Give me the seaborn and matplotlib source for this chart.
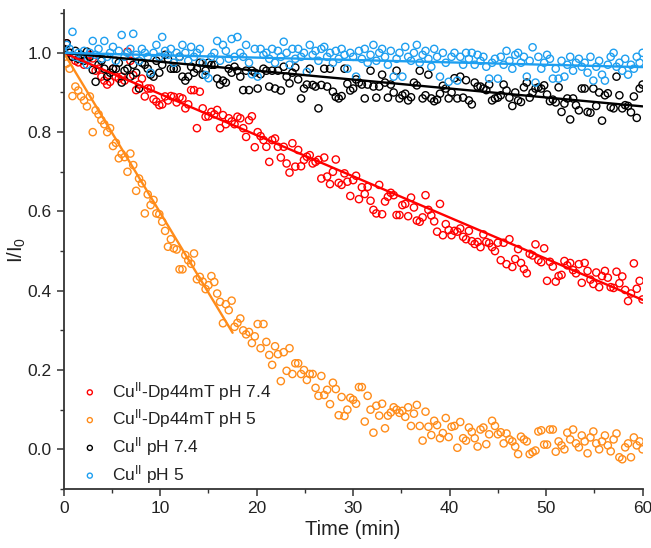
import numpy as np
import pandas as pd
import matplotlib; matplotlib.use("Agg")
import matplotlib.pyplot as plt
import seaborn as sns

# ---- data (one reading every ~0.3 min, 0-60 min) ----
red_y = [  # Cu(II)-Dp44mT pH 7.4
    1.01, 1.024, 1.0, 0.99, 0.98, 0.976, 0.99, 0.97, 0.985, 0.995,
    0.986, 0.955, 0.96, 0.94, 0.93, 0.92, 0.927, 0.96, 0.94, 0.935,
    0.94, 0.93, 1.003, 0.98, 0.944, 0.906, 0.92, 0.935, 0.89, 0.91,
    0.91, 0.883, 0.877, 0.868, 0.87, 0.89, 0.88, 0.891, 0.889, 0.875,
    0.888, 0.885, 0.86, 0.87, 0.906, 0.906, 0.81, 0.902, 0.86, 0.839,
    0.84, 0.851, 0.845, 0.856, 0.81, 0.843, 0.82, 0.835, 0.827, 0.82,
    0.839, 0.835, 0.81, 0.788, 0.83, 0.84, 0.762, 0.80, 0.79, 0.78,
    0.763, 0.725, 0.78, 0.784, 0.763, 0.736, 0.763, 0.721, 0.698, 0.772,
    0.713, 0.755, 0.714, 0.73, 0.738, 0.742, 0.721, 0.725, 0.73, 0.683,
    0.736, 0.688, 0.669, 0.70, 0.731, 0.672, 0.667, 0.696, 0.675, 0.639,
    0.679, 0.69, 0.631, 0.661, 0.644, 0.662, 0.627, 0.604, 0.595, 0.667,
    0.593, 0.625, 0.637, 0.647, 0.641, 0.591, 0.591, 0.616, 0.619, 0.588,
    0.635, 0.61, 0.577, 0.574, 0.585, 0.641, 0.604, 0.59, 0.575, 0.549,
    0.619, 0.54, 0.568, 0.553, 0.54, 0.551, 0.549, 0.557, 0.536, 0.53,
    0.551, 0.525, 0.518, 0.523, 0.51, 0.542, 0.523, 0.52, 0.51, 0.50,
    0.521, 0.477, 0.521, 0.467, 0.53, 0.46, 0.48, 0.505, 0.47, 0.455,
    0.444, 0.493, 0.489, 0.517, 0.477, 0.472, 0.507, 0.425, 0.473, 0.461,
    0.423, 0.437, 0.44, 0.475, 0.464, 0.47, 0.452, 0.444, 0.467, 0.42,
    0.47, 0.45, 0.428, 0.417, 0.446, 0.409, 0.437, 0.45, 0.433, 0.409,
    0.407, 0.448, 0.419, 0.436, 0.402, 0.374, 0.393, 0.469, 0.405, 0.425,
    0.378,
]
orange_y = [  # Cu(II)-Dp44mT pH 5
    1.00, 0.973, 0.96, 0.891, 0.915, 0.905, 0.89, 0.88, 0.865, 0.89,
    0.80, 0.855, 0.845, 0.83, 0.82, 0.80, 0.81, 0.765, 0.773, 0.734,
    0.745, 0.737, 0.70, 0.746, 0.717, 0.652, 0.683, 0.671, 0.595, 0.643,
    0.616, 0.629, 0.595, 0.593, 0.574, 0.551, 0.511, 0.53, 0.507, 0.504,
    0.454, 0.454, 0.49, 0.477, 0.468, 0.494, 0.429, 0.435, 0.423, 0.404,
    0.414, 0.437, 0.422, 0.393, 0.372, 0.318, 0.366, 0.351, 0.375, 0.309,
    0.319, 0.33, 0.30, 0.29, 0.296, 0.268, 0.285, 0.316, 0.255, 0.316,
    0.271, 0.238, 0.213, 0.26, 0.24, 0.172, 0.245, 0.198, 0.255, 0.19,
    0.217, 0.217, 0.19, 0.2, 0.175, 0.19, 0.19, 0.155, 0.135, 0.185,
    0.137, 0.15, 0.114, 0.168, 0.152, 0.086, 0.132, 0.084, 0.10, 0.13,
    0.125, 0.115, 0.157, 0.157, 0.07, 0.135, 0.10, 0.042, 0.11, 0.085,
    0.115, 0.053, 0.085, 0.093, 0.106, 0.10, 0.092, 0.097, 0.082, 0.106,
    0.059, 0.09, 0.112, 0.059, 0.022, 0.095, 0.057, 0.036, 0.072, 0.061,
    0.028, 0.041, 0.079, 0.031, 0.057, 0.059, 0.004, 0.069, 0.028, 0.022,
    0.055, 0.044, 0.028, 0.007, 0.05, 0.055, 0.013, 0.038, 0.072, 0.059,
    0.038, 0.043, 0.015, 0.04, 0.025, 0.02, 0.007, -0.012, 0.032, 0.025,
    0.02, -0.012, -0.007, -0.003, 0.045, 0.048, 0.012, 0.012, 0.05, 0.05,
    -0.006, 0.02, 0.01, 0.0, 0.042, 0.025, 0.05, 0.015, 0.005, 0.035,
    0.02, -0.01, 0.03, 0.045, 0.015, 0.0, 0.02, 0.035, 0.01, -0.005,
    0.025, 0.04, -0.02, -0.025, 0.005, 0.015, -0.02, 0.03, 0.01, 0.02,
    0.0,
]
black_y = [  # Cu(II) pH 7.4
    1.01, 1.024, 1.0, 0.99, 1.005, 0.985, 0.995, 0.98, 1.003, 0.99,
    0.957, 0.927, 0.97, 0.98, 0.96, 0.94, 0.95, 0.96, 0.96, 0.975,
    0.925, 0.955, 0.96, 0.94, 0.97, 0.95, 0.91, 0.975, 0.97, 0.96,
    0.945, 0.94, 0.98, 0.95, 0.97, 0.995, 0.985, 0.96, 0.96, 0.96,
    0.99, 0.94, 0.93, 0.94, 0.965, 0.95, 0.96, 0.975, 0.945, 0.955,
    0.975, 0.97, 0.97, 0.935, 0.92, 0.93, 0.925, 0.96, 0.95, 0.965,
    0.955, 0.94, 0.906, 0.955, 0.906, 0.955, 0.95, 0.91, 0.946, 0.96,
    0.955, 0.915, 0.955, 0.91, 0.955, 0.905, 0.965, 0.94, 0.923, 0.95,
    0.963, 0.933, 0.885, 0.91, 0.92, 0.96, 0.919, 0.915, 0.86, 0.919,
    0.96, 0.915, 0.96, 0.902, 0.889, 0.885, 0.891, 0.96, 0.922, 0.905,
    0.91, 0.933, 0.925, 0.92, 0.885, 0.92, 0.955, 0.915, 0.887, 0.915,
    0.945, 0.925, 0.887, 0.92, 0.9, 0.955, 0.885, 0.893, 0.897, 0.88,
    0.888, 0.925, 0.918, 0.955, 0.885, 0.893, 0.945, 0.885, 0.878, 0.882,
    0.897, 0.917, 0.91, 0.885, 0.9, 0.936, 0.885, 0.94, 0.887, 0.931,
    0.88, 0.87, 0.925, 0.915, 0.915, 0.91, 0.906, 0.92, 0.88, 0.885,
    0.887, 0.893, 0.92, 0.905, 0.887, 0.866, 0.9, 0.88, 0.876, 0.913,
    0.925, 0.887, 0.9, 0.91, 0.913, 0.91, 0.918, 0.895, 0.878, 0.882,
    0.875, 0.913, 0.851, 0.872, 0.885, 0.832, 0.885, 0.868, 0.855, 0.91,
    0.91, 0.851, 0.849, 0.91, 0.866, 0.9, 0.829, 0.893, 0.898, 0.863,
    0.86, 0.94, 0.893, 0.86, 0.868, 0.866, 0.85, 0.89, 0.836, 0.91,
    0.92,
]
blue_y = [  # Cu(II) pH 5
    1.0, 1.02, 1.01, 1.053, 0.99, 1.0, 0.985, 1.005, 0.97, 1.0,
    1.03, 0.995, 1.01, 0.985, 1.03, 0.99, 1.0, 1.015, 0.98, 1.005,
    1.045, 0.99, 1.0, 1.01, 1.048, 0.995, 0.98, 1.01, 1.0, 0.99,
    0.95, 1.0, 1.02, 0.99, 1.04, 1.005, 0.995, 1.01, 0.975, 1.0,
    0.99, 1.02, 1.0, 0.98, 1.015, 0.99, 1.0, 1.01, 0.975, 0.944,
    0.936, 0.99, 1.0, 1.03, 0.98, 1.02, 1.005, 0.985, 1.035, 0.99,
    1.04, 1.0, 0.99, 1.02, 0.975, 0.946, 1.01, 0.94, 1.01, 0.995,
    1.0, 0.985, 1.01, 0.975, 1.005, 0.99, 1.028, 1.0, 0.97, 1.01,
    0.985, 1.01, 0.99, 1.0, 0.952, 1.02, 0.995, 1.005, 0.98, 1.01,
    1.015, 0.99, 1.0, 0.975, 1.005, 0.985, 1.01, 0.995, 0.96, 1.0,
    0.99, 0.94, 1.005, 0.985, 1.01, 0.975, 0.995, 1.02, 0.98, 1.0,
    1.01, 0.99, 0.97, 1.005, 0.94, 0.985, 1.0, 0.94, 1.015, 0.99,
    0.98, 1.0, 1.02, 0.975, 0.995, 1.005, 0.985, 0.965, 1.01, 0.99,
    0.94, 1.0, 0.975, 0.927, 0.99, 1.0, 0.93, 0.99, 0.97, 1.0,
    0.985, 1.0, 0.97, 0.995, 0.98, 0.99, 0.965, 0.935, 0.975, 0.985,
    0.935, 0.99, 0.97, 1.005, 0.98, 0.96, 0.995, 1.0, 0.975, 0.99,
    0.94, 0.98, 1.014, 0.925, 0.99, 0.96, 0.975, 0.995, 0.985, 0.935,
    0.96, 0.935, 0.98, 0.94, 0.97, 0.99, 0.955, 0.975, 0.985, 0.965,
    0.975, 0.95, 0.99, 0.93, 0.965, 0.98, 0.945, 0.93, 0.97, 0.99,
    1.0, 0.965, 0.975, 0.955, 0.985, 0.945, 0.97, 0.96, 0.99, 0.975,
    1.0,
]

# fitted lines (end points)
fit_red_x, fit_red_y = [0, 60], [1.0, 0.377]
fit_orange_x, fit_orange_y = [0, 17.5], [1.0, 0.294]
fit_black_x, fit_black_y = [0, 60], [1.0, 0.865]
fit_blue_x, fit_blue_y = [0, 60], [1.0, 0.964]

labels = [r"Cu$^{\mathrm{II}}$-Dp44mT pH 7.4", r"Cu$^{\mathrm{II}}$-Dp44mT pH 5",
          r"Cu$^{\mathrm{II}}$ pH 7.4", r"Cu$^{\mathrm{II}}$ pH 5"]
colors = ["#FF0000", "#FF8C1A", "#000000", "#1E9FF0"]

# ---- style ----
sns.set_theme(style="ticks")
plt.rcParams["font.family"] = ["Liberation Sans", "DejaVu Sans"]
plt.rcParams["mathtext.fontset"] = "custom"
plt.rcParams["mathtext.rm"] = "Liberation Sans"
plt.rcParams["mathtext.it"] = "Liberation Sans:italic"

fig = plt.figure(figsize=(6.51, 5.48), dpi=100)
ax = fig.add_axes([0.098, 0.1077, 0.889, 0.874])

series = [red_y, orange_y, black_y, blue_y]
for ys, c, lab in zip(series, colors, labels):
    t = np.linspace(0, 60, len(ys))
    sns.scatterplot(x=t, y=ys, ax=ax, marker="o", s=27, facecolor="none",
                    edgecolor=c, linewidth=1.0, label=lab, legend=False)

fits = [(fit_red_x, fit_red_y), (fit_orange_x, fit_orange_y),
        (fit_black_x, fit_black_y), (fit_blue_x, fit_blue_y)]
for (fx, fy), c in zip(fits, colors):
    sns.lineplot(x=fx, y=fy, ax=ax, color=c, linewidth=1.7, errorbar=None, legend=False)

ax.set_xlim(0, 60)
ax.set_ylim(-0.1, 1.108)
ax.set_xticks([0, 10, 20, 30, 40, 50, 60])
ax.set_xticks([5, 15, 25, 35, 45, 55], minor=True)
ax.set_yticks([0.0, 0.2, 0.4, 0.6, 0.8, 1.0])
ax.set_yticks([-0.1, 0.1, 0.3, 0.5, 0.7, 0.9, 1.1], minor=True)
ax.set_yticklabels(["0.0", "0.2", "0.4", "0.6", "0.8", "1.0"])
ax.tick_params(axis="both", which="major", labelsize=12.5, length=5, width=1.1,
               direction="out", color="#333333", labelcolor="#222222")
ax.tick_params(axis="both", which="minor", length=3, width=1.0, color="#333333")
for s in ["left", "bottom"]:
    ax.spines[s].set_linewidth(1.3)
    ax.spines[s].set_color("#333333")
sns.despine(ax=ax)

ax.set_xlabel("Time (min)", fontsize=14.5, color="#222222", labelpad=3)
ax.set_ylabel("I/I$_0$", fontsize=14.5, color="#222222", labelpad=0)

handles = ax.collections[:4]
leg = ax.legend(handles, labels, loc="lower left", bbox_to_anchor=(0.0, -0.026),
                frameon=False, fontsize=12.5, markerscale=0.7, handletextpad=0.7,
                labelspacing=0.28, handlelength=1.2)
for txt in leg.get_texts():
    txt.set_color("#222222")

fig.savefig("out.png", dpi=100)
